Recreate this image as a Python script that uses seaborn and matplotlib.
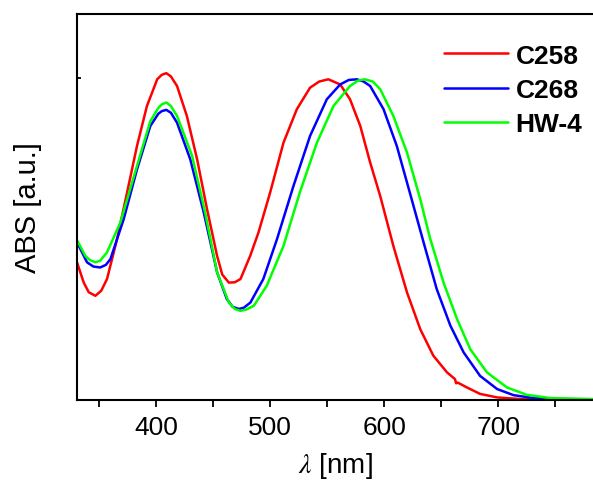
import pandas as pd
import seaborn as sns
import matplotlib.pyplot as plt
from matplotlib.ticker import MultipleLocator

# data (normalised absorbance vs wavelength in nm)
wl_c258 = [330.7, 336.6, 341, 346.8, 352, 357, 365.8, 374.6, 383.3, 392,
           401, 405, 409, 413, 418.4, 427, 436, 444.7, 453.5, 458, 463.8,
           469, 474, 482.5, 489.7, 500, 511.7, 523.4, 535, 543, 551, 561.4,
           570, 579, 587.7, 596.5, 608, 620, 631.6, 643, 655, 662, 663,
           664.5, 672.5, 684, 699, 719, 783]
abs_c258 = [0.428, 0.365, 0.335, 0.324, 0.34, 0.376, 0.50, 0.645, 0.79,
            0.914, 0.997, 1.011, 1.016, 1.006, 0.976, 0.883, 0.748, 0.593,
            0.448, 0.39, 0.365, 0.366, 0.376, 0.448, 0.52, 0.645, 0.80,
            0.904, 0.971, 0.99, 0.997, 0.981, 0.935, 0.852, 0.738, 0.634,
            0.479, 0.334, 0.22, 0.138, 0.086, 0.065, 0.052, 0.054, 0.039,
            0.019, 0.008, 0.003, 0.002]

wl_c268 = [330.7, 339.5, 345, 351, 356, 360, 371.6, 383.3, 395, 402, 405,
           409, 413, 418.4, 430, 441.8, 453.5, 462, 467, 472.5, 477, 482.7,
           494, 506, 520.5, 535, 549.7, 561.4, 569, 576, 582, 587.7, 599.4,
           611, 622.8, 634.5, 646, 658, 669.6, 684, 699, 713.4, 731, 750, 783]
abs_c268 = [0.49, 0.428, 0.415, 0.412, 0.42, 0.438, 0.562, 0.717, 0.852,
            0.89, 0.898, 0.902, 0.893, 0.862, 0.748, 0.583, 0.397, 0.314,
            0.29, 0.283, 0.287, 0.303, 0.376, 0.50, 0.666, 0.821, 0.935,
            0.981, 0.995, 0.997, 0.99, 0.976, 0.904, 0.79, 0.64, 0.49, 0.345,
            0.231, 0.148, 0.075, 0.034, 0.015, 0.006, 0.003, 0.002]

wl_hw4 = [330.7, 338, 342, 346.8, 351, 357, 368.7, 383.3, 395, 402, 405,
          409, 413, 418.4, 431.6, 443, 453.5, 463.8, 469, 474, 479, 485.7,
          497, 511.7, 526, 541, 555.5, 570, 577, 583, 590, 596.5, 608, 620,
          631.6, 640, 652, 663.8, 675.4, 690, 707.6, 725, 745.6, 783]
abs_hw4 = [0.497, 0.448, 0.435, 0.428, 0.433, 0.459, 0.552, 0.728, 0.867,
           0.908, 0.919, 0.925, 0.914, 0.883, 0.759, 0.583, 0.397, 0.303,
           0.283, 0.277, 0.281, 0.293, 0.355, 0.479, 0.645, 0.80, 0.914,
           0.976, 0.993, 0.997, 0.99, 0.966, 0.883, 0.769, 0.624, 0.505,
           0.365, 0.252, 0.158, 0.086, 0.039, 0.016, 0.006, 0.003]

names = ['C258', 'C268', 'HW-4']
palette = {'C258': '#ff0000', 'C268': '#0000ff', 'HW-4': '#00ff00'}

df = pd.concat([
    pd.DataFrame({'wl': wl_c258, 'abs': abs_c258, 'sample': 'C258'}),
    pd.DataFrame({'wl': wl_c268, 'abs': abs_c268, 'sample': 'C268'}),
    pd.DataFrame({'wl': wl_hw4, 'abs': abs_hw4, 'sample': 'HW-4'}),
], ignore_index=True)

sns.set_style('ticks')
plt.rcParams['font.family'] = ['Liberation Sans', 'DejaVu Sans']
plt.rcParams['mathtext.fontset'] = 'stix'
for k in ['text.color', 'axes.labelcolor', 'xtick.color', 'ytick.color']:
    plt.rcParams[k] = 'black'

fig = plt.figure(figsize=(5.93, 4.89), dpi=100)
ax = fig.add_axes([77 / 593, 88 / 489, 1 - 77 / 593, (401 - 15) / 489])

sns.lineplot(data=df, x='wl', y='abs', hue='sample', hue_order=names,
             palette=palette, lw=1.8, sort=False, ax=ax,
             solid_joinstyle='round')

ax.set_xlim(330.7, 783)
ax.set_ylim(0, 1.2)
ax.set_xticks([400, 500, 600, 700])
ax.xaxis.set_minor_locator(MultipleLocator(50))
ax.set_yticks([1.0])
ax.set_yticklabels([])
ax.tick_params(axis='x', which='both', direction='out', length=5, width=1.3,
               labelsize=19, pad=6)
ax.tick_params(axis='y', direction='in', length=3, width=1.3)
for s in ['left', 'bottom', 'top']:
    ax.spines[s].set_linewidth(1.5)
    ax.spines[s].set_color('black')
ax.spines['right'].set_visible(False)

ax.set_xlabel(r'$\lambda$ [nm]', fontsize=20, labelpad=8)
ax.set_ylabel('ABS [a.u.]', fontsize=21, labelpad=22)

leg = ax.legend(loc='upper left', bbox_to_anchor=(0.665, 0.985),
                frameon=False, handlelength=2.42, handletextpad=0.3,
                labelspacing=0.39, prop={'size': 19, 'weight': 'bold'})
for line in leg.get_lines():
    line.set_linewidth(1.8)

fig.savefig('out.png', dpi=100)
